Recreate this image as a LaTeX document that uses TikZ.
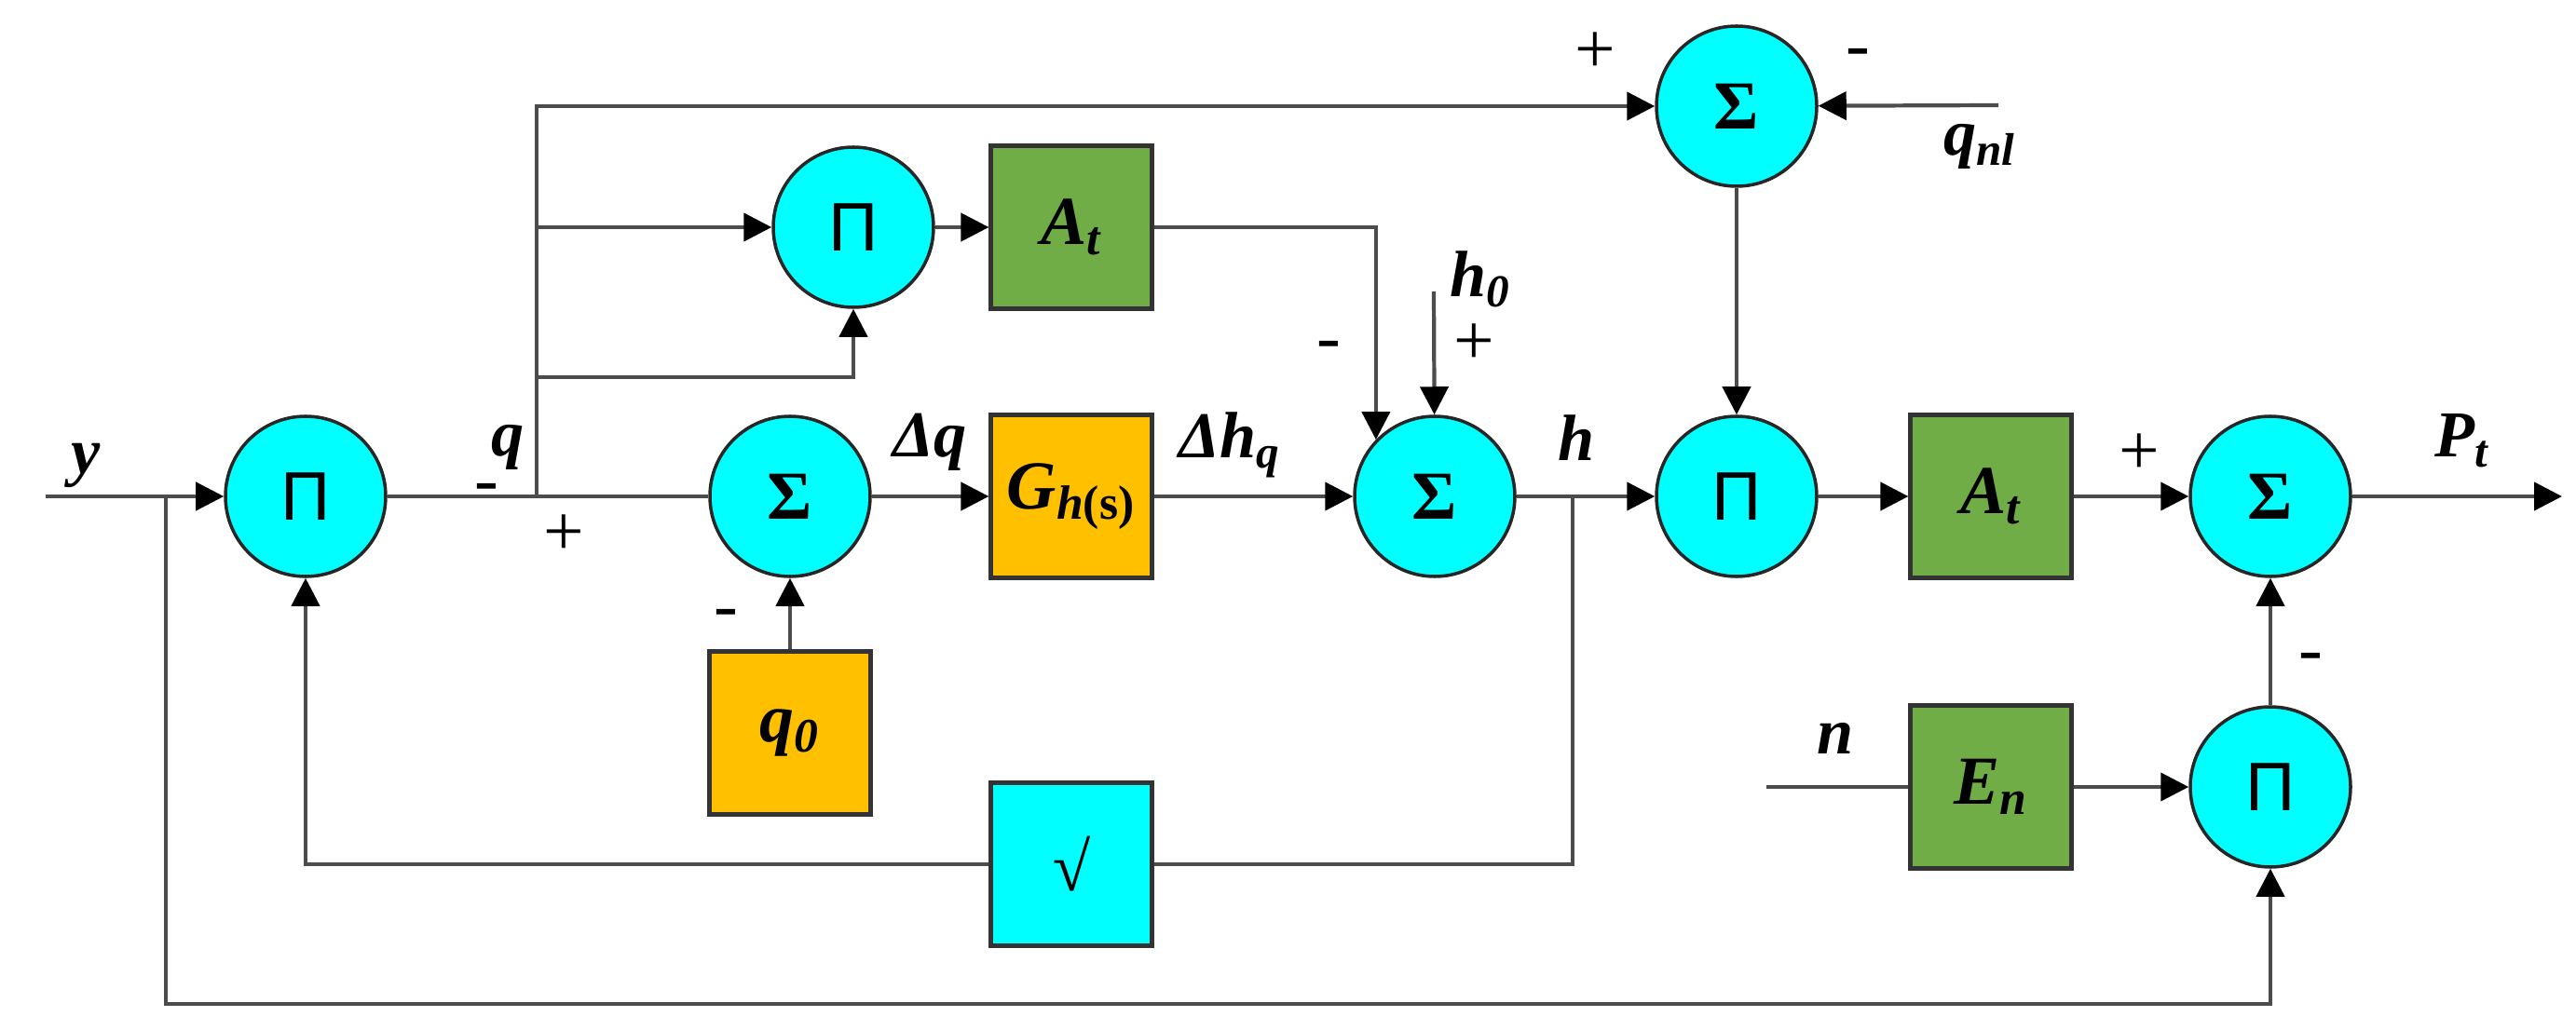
\documentclass[tikz,border=0pt]{standalone}
\usepackage{fontspec}
\setmainfont{Liberation Serif}
\newfontfamily\pisans{Liberation Sans}
\usetikzlibrary{positioning,arrows.meta}
\definecolor{gaingreen}{HTML}{70AD47}
\definecolor{gainorange}{HTML}{FFC000}
\definecolor{junccyan}{HTML}{00FFFF}

\begin{document}
\begin{tikzpicture}[
		junction/.style={
			circle,
			draw=black!85,
			line width=1pt,
			fill=junccyan,
			minimum size=1.72cm,
			inner sep=0pt,
			font=\fontsize{21}{24}\selectfont,
		},
		gain/.style={
			rectangle,
			draw=black!80,
			line width=1.2pt,
			minimum width=1.73cm,
			minimum height=1.75cm,
			inner sep=0pt,
			font=\fontsize{21}{24}\selectfont\bfseries\itshape,
		},
		sig/.style={inner sep=0pt, font=\fontsize{20}{24}\selectfont\bfseries\itshape},
		sgn/.style={inner sep=0pt, font=\fontsize{22}{24}\selectfont},
		line/.style={draw=black!70, line width=1.2pt},
		>={Triangle[length=3mm,width=3mm,color=black]}
		]
		\useasboundingbox (0,0) rectangle (27.65,-11.06);
		% Draw the junctions
		\node [junction] (prodq) at (3.28,-5.33) {\pisans Π};
		\node [junction] (sumdq) at (8.48,-5.33) {\textbf{Σ}};
		\node [junction] (prodb) at (9.16,-2.44) {\pisans Π};
		\node [junction] (sumh) at (15.40,-5.33) {\textbf{Σ}};
		\node [junction] (sumq) at (18.64,-1.14) {\textbf{Σ}};
		\node [junction] (prodp) at (18.64,-5.33) {\pisans Π};
		\node [junction] (sump) at (24.37,-5.33) {\textbf{Σ}};
		\node [junction] (prode) at (24.37,-8.45) {\pisans Π};
		% Draw the blocks
		\node [gain,fill=gaingreen] (ata) at (11.50,-2.44) {A\textsubscript{t}};
		\node [gain,fill=gainorange] (gh) at (11.50,-5.33) {G\textsubscript{h\textup{(s)}}};
		\node [gain,fill=gainorange] (qzero) at (8.48,-7.87) {q\textsubscript{0}};
		\node [gain,fill=junccyan] (root) at (11.50,-9.28) {√};
		\node [gain,fill=gaingreen] (atb) at (21.37,-5.33) {A\textsubscript{t}};
		\node [gain,fill=gaingreen] (en) at (21.37,-8.45) {E\textsubscript{n}};
		% Branch points and free ends
		\coordinate (yin) at (0.49,-5.33);
		\coordinate (yb) at (1.78,-5.33);
		\coordinate (ylow) at (1.78,-10.78);
		\coordinate (qb) at (5.76,-5.33);
		\coordinate (qlow) at (5.76,-4.05);
		\coordinate (hzero) at (15.39,-3.13);
		\coordinate (hb) at (16.88,-5.33);
		\coordinate (qnlin) at (21.45,-1.13);
		\coordinate (nin) at (18.96,-8.45);
		\coordinate (pout) at (27.50,-5.33);
		% Draw the main path
		\draw[line,->] (yin) -- (prodq);
		\draw[line] (prodq) -- (sumdq);
		\draw[line,->] (sumdq) -- (gh);
		\draw[line,->] (gh) -- (sumh);
		\draw[line,->] (sumh) -- (prodp);
		\draw[line,->] (prodp) -- (atb);
		\draw[line,->] (atb) -- (sump);
		\draw[line,->] (sump) -- (pout);
		% Draw the branches of q
		\draw[line,->] (qb) |- (sumq);
		\draw[line,->] (qb |- prodb) -- (prodb);
		\draw[line,->] (qlow) -| (prodb);
		\draw[line,->] (prodb) -- (ata);
		\draw[line,->] (ata) -| (sumh.136);
		\draw[line,->] (qzero) -- (sumdq);
		\draw[line,->] (hzero) -- (sumh);
		\draw[line,->] (qnlin) -- (sumq);
		\draw[line,->] (sumq) -- (prodp);
		% Draw the feedback and the lower paths
		\draw[line] (hb) |- (root);
		\draw[line,->] (root) -| (prodq);
		\draw[line,->] (yb) -- (ylow) -| (prode);
		\draw[line] (nin) -- (en);
		\draw[line,->] (en) -- (prode);
		\draw[line,->] (prode) -- (sump);
		% Draw the signal labels
		\node[sig] (lbly) at (0.92,-5.00) {y};
		\node[sig] (lblq) at (5.45,-4.80) {q};
		\node[sig] (lbldq) at (9.98,-4.75) {Δq};
		\node[sig] (lbldh) at (13.20,-4.78) {Δh\textsubscript{q}};
		\node[sig] (lblhz) at (15.89,-3.00) {h\textsubscript{0}};
		\node[sig] (lblh) at (16.92,-4.70) {h};
		\node[sig] (lblqnl) at (21.25,-1.57) {q\textsubscript{nl}};
		\node[sig] (lblpt) at (26.43,-4.73) {P\textsubscript{t}};
		\node[sig] (lbln) at (19.70,-7.93) {n};
		% Draw the signs
		\node[sgn] (sa) at (5.22,-5.30) {-};
		\node[sgn] (sb) at (6.05,-5.75) {+};
		\node[sgn] (sc) at (7.79,-6.65) {-};
		\node[sgn] (sd) at (14.26,-3.77) {-};
		\node[sgn] (se) at (15.82,-3.70) {+};
		\node[sgn] (sf) at (17.12,-0.57) {+};
		\node[sgn] (sg) at (19.94,-0.63) {-};
		\node[sgn] (sh) at (22.96,-4.88) {+};
		\node[sgn] (si) at (24.80,-7.12) {-};
	\end{tikzpicture}
\end{document}
